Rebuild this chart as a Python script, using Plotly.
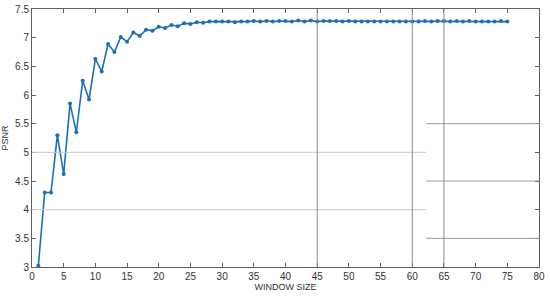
import plotly.graph_objects as go

# window size vs PSNR
window_size = list(range(1, 76))
psnr = [3.02, 4.30, 4.30, 5.30, 4.62, 5.85, 5.35, 6.25, 5.92, 6.63,
        6.41, 6.89, 6.75, 7.01, 6.93, 7.09, 7.03, 7.14, 7.12, 7.19,
        7.17, 7.22, 7.20, 7.25, 7.24, 7.27, 7.26, 7.28, 7.28, 7.28,
        7.28, 7.27, 7.28, 7.28, 7.29, 7.28, 7.29, 7.28, 7.29, 7.29,
        7.28, 7.30, 7.28, 7.30, 7.28, 7.29, 7.29, 7.29, 7.28, 7.29,
        7.28, 7.28, 7.28, 7.28, 7.28, 7.28, 7.28, 7.28, 7.28, 7.28,
        7.28, 7.29, 7.28, 7.29, 7.29, 7.28, 7.29, 7.28, 7.29, 7.28,
        7.28, 7.28, 7.28, 7.29, 7.28]

fig = go.Figure()
fig.add_trace(go.Scatter(
    x=window_size, y=psnr, mode='lines+markers',
    line=dict(color='#1f6fb4', width=1.6),
    marker=dict(color='#1f6fb4', size=4, symbol='circle'),
    showlegend=False,
))

# odd partial grid lines seen in the original figure
grid = []
for yv in [4, 5]:
    grid.append(dict(type='line', x0=0, x1=62.2, y0=yv, y1=yv,
                     line=dict(color='#c8c8c8', width=1)))
for yv in [3.5, 4.5, 5.5]:
    grid.append(dict(type='line', x0=62.2, x1=80, y0=yv, y1=yv,
                     line=dict(color='#9a9a9a', width=1)))
for xv in [45, 60, 65]:
    grid.append(dict(type='line', x0=xv, x1=xv, y0=3, y1=7.5,
                     line=dict(color='#8a8a8a', width=1)))

axis_style = dict(
    showgrid=False, zeroline=False, showline=True, linecolor='#606060',
    linewidth=1, mirror='allticks', ticks='inside', ticklen=4, automargin=False,
    tickcolor='#606060', tickwidth=1,
    tickfont=dict(family='Liberation Sans, Arial', size=10, color='#333'),
)

fig.update_layout(
    width=550, height=297,
    margin=dict(l=32, r=11, t=9, b=30),
    plot_bgcolor='white', paper_bgcolor='white',
    shapes=grid,
    xaxis=dict(range=[0, 80], dtick=5, title=dict(text='WINDOW SIZE', standoff=0,
               font=dict(family='Liberation Sans, Arial', size=9, color='#333')), **axis_style),
    yaxis=dict(range=[3, 7.5], dtick=0.5, title=dict(text='PSNR', standoff=4,
               font=dict(family='Liberation Sans, Arial', size=9, color='#333')), **axis_style),
)

fig.write_html("out.html", config={'displayModeBar': False},
               post_script="document.body.style.margin='0';")
